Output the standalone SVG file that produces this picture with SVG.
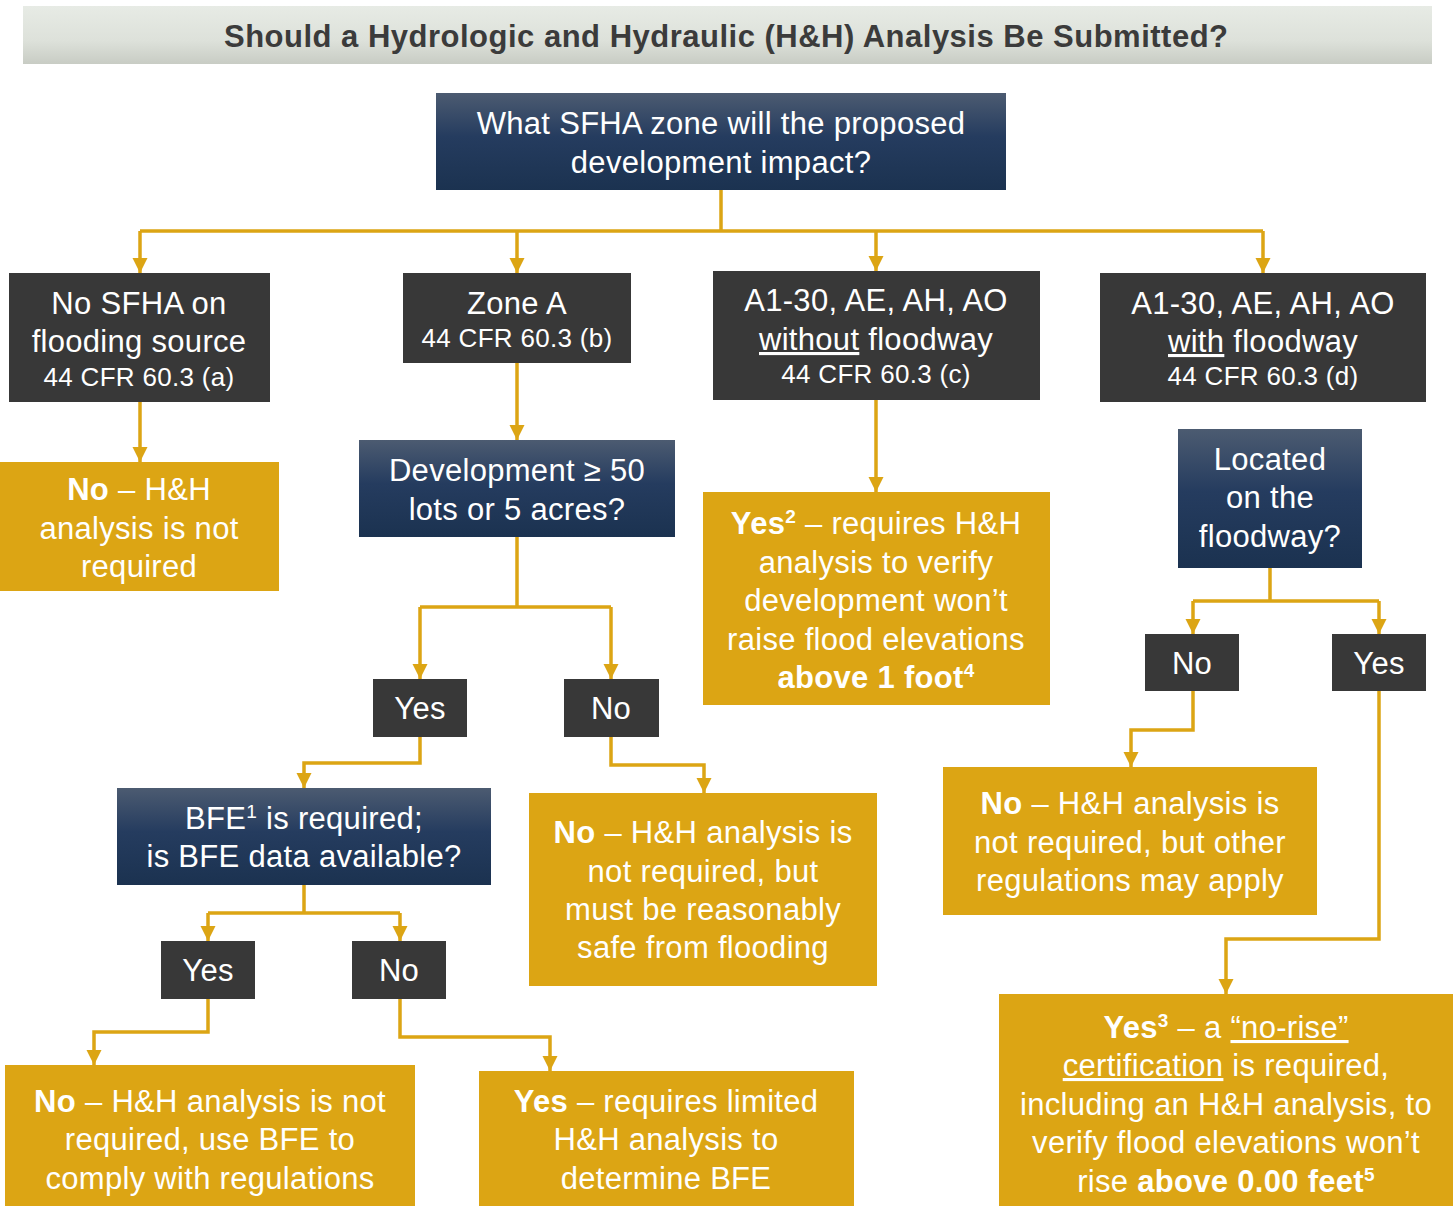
<svg xmlns="http://www.w3.org/2000/svg" width="1453" height="1206" viewBox="0 0 1453 1206">
<defs>
<linearGradient id="hdr" x1="0" y1="0" x2="0" y2="1">
<stop offset="0" stop-color="#e7ebe5"/><stop offset="0.6" stop-color="#dde1da"/><stop offset="1" stop-color="#c8ccc4"/>
</linearGradient>
<linearGradient id="navy" x1="0" y1="0" x2="0" y2="1">
<stop offset="0" stop-color="#4c5b71"/><stop offset="0.45" stop-color="#253c5f"/><stop offset="1" stop-color="#1b3250"/>
</linearGradient>
<marker id="ah" markerUnits="userSpaceOnUse" markerWidth="16" markerHeight="16" viewBox="0 0 16 16" refX="15" refY="8" orient="auto">
<path d="M0,0.5 L15,8 L0,15.5 z" fill="#dca514"/>
</marker>
<style>
.dark{fill:#383838}
.nv{fill:url(#navy)}
.gold{fill:#dca514}
text{font-family:"Liberation Sans",Arial,sans-serif;fill:#ffffff;text-anchor:middle}
.t{font-size:31px;letter-spacing:0.3px}
.s{font-size:26px;letter-spacing:0.3px}
.b{font-weight:bold}
.u{text-decoration:underline}
.title{font-size:31px;font-weight:bold;fill:#3b3b3b}
.c{fill:none;stroke:#dca514;stroke-width:3.5}
.ca{fill:none;stroke:#dca514;stroke-width:3.5;marker-end:url(#ah)}
</style>
</defs>
<rect width="1453" height="1206" fill="#ffffff"/>

<g id="header">
<rect x="23" y="6" width="1409" height="58" fill="url(#hdr)"/>
<text class="title" x="726" y="47" textLength="1004" lengthAdjust="spacing">Should a Hydrologic and Hydraulic (H&amp;H) Analysis Be Submitted?</text>
</g>

<g id="connectors">
<path class="c" d="M721,190 V231 M140,231 H1263"/>
<path class="ca" d="M140,231 V273"/>
<path class="ca" d="M517,231 V273"/>
<path class="ca" d="M876,231 V271"/>
<path class="ca" d="M1263,231 V273"/>
<path class="ca" d="M140,402 V462"/>
<path class="ca" d="M517,363 V440"/>
<path class="ca" d="M876,400 V492"/>
<path class="c" d="M517,537 V607 M420,607 H611"/>
<path class="ca" d="M420,607 V679"/>
<path class="ca" d="M611,607 V679"/>
<path class="ca" d="M420,737 V763 H304 V788"/>
<path class="ca" d="M611,737 V765 H704 V793"/>
<path class="c" d="M304,885 V913 M208,913 H400"/>
<path class="ca" d="M208,913 V941"/>
<path class="ca" d="M400,913 V941"/>
<path class="ca" d="M208,999 V1032 H94 V1065"/>
<path class="ca" d="M400,999 V1037 H550 V1071"/>
<path class="c" d="M1270,568 V601 M1193,601 H1379"/>
<path class="ca" d="M1193,601 V634"/>
<path class="ca" d="M1379,601 V634"/>
<path class="ca" d="M1193,691 V730 H1131 V767"/>
<path class="ca" d="M1379,691 V939 H1226 V994"/>
</g>

<g id="n-top">
<rect class="nv" x="436" y="93" width="570" height="97"/>
<text class="t" x="721" y="134">What SFHA zone will the proposed</text>
<text class="t" x="721" y="173">development impact?</text>
</g>

<g id="n-nosfha">
<rect class="dark" x="9" y="273" width="261" height="129"/>
<text class="t" x="139" y="314">No SFHA on</text>
<text class="t" x="139" y="352">flooding source</text>
<text class="s" x="139" y="386">44 CFR 60.3 (a)</text>
</g>

<g id="n-zonea">
<rect class="dark" x="403" y="273" width="228" height="90"/>
<text class="t" x="517" y="314">Zone A</text>
<text class="s" x="517" y="347">44 CFR 60.3 (b)</text>
</g>

<g id="n-without">
<rect class="dark" x="713" y="271" width="327" height="129"/>
<text class="t" x="876" y="311">A1-30, AE, AH, AO</text>
<text class="t" x="876" y="350"><tspan class="u">without</tspan> floodway</text>
<text class="s" x="876" y="383">44 CFR 60.3 (c)</text>
</g>

<g id="n-with">
<rect class="dark" x="1100" y="273" width="326" height="129"/>
<text class="t" x="1263" y="314">A1-30, AE, AH, AO</text>
<text class="t" x="1263" y="352"><tspan class="u">with</tspan> floodway</text>
<text class="s" x="1263" y="385">44 CFR 60.3 (d)</text>
</g>

<g id="n-no-a">
<rect class="gold" x="0" y="462" width="279" height="129"/>
<text class="t" x="139" y="500"><tspan class="b">No</tspan> – H&amp;H</text>
<text class="t" x="139" y="539">analysis is not</text>
<text class="t" x="139" y="577">required</text>
</g>

<g id="n-dev">
<rect class="nv" x="359" y="440" width="316" height="97"/>
<text class="t" x="517" y="481">Development ≥ 50</text>
<text class="t" x="517" y="520">lots or 5 acres?</text>
</g>

<g id="n-dev-yes">
<rect class="dark" x="373" y="679" width="94" height="58"/>
<text class="t" x="420" y="719">Yes</text>
</g>

<g id="n-dev-no">
<rect class="dark" x="564" y="679" width="95" height="58"/>
<text class="t" x="611" y="719">No</text>
</g>

<g id="n-bfe">
<rect class="nv" x="117" y="788" width="374" height="97"/>
<text class="t" x="304" y="829">BFE<tspan font-size="19" dy="-11">1</tspan><tspan dy="11"> is required;</tspan></text>
<text class="t" x="304" y="867">is BFE data available?</text>
</g>

<g id="n-no-safe">
<rect class="gold" x="529" y="793" width="348" height="193"/>
<text class="t" x="703" y="843"><tspan class="b">No</tspan> – H&amp;H analysis is</text>
<text class="t" x="703" y="882">not required, but</text>
<text class="t" x="703" y="920">must be reasonably</text>
<text class="t" x="703" y="958">safe from flooding</text>
</g>

<g id="n-bfe-yes">
<rect class="dark" x="161" y="941" width="94" height="58"/>
<text class="t" x="208" y="981">Yes</text>
</g>

<g id="n-bfe-no">
<rect class="dark" x="352" y="941" width="94" height="58"/>
<text class="t" x="399" y="981">No</text>
</g>

<g id="n-no-usebfe">
<rect class="gold" x="5" y="1065" width="410" height="141"/>
<text class="t" x="210" y="1112"><tspan class="b">No</tspan> – H&amp;H analysis is not</text>
<text class="t" x="210" y="1150">required, use BFE to</text>
<text class="t" x="210" y="1189">comply with regulations</text>
</g>

<g id="n-yes-limited">
<rect class="gold" x="479" y="1071" width="375" height="135"/>
<text class="t" x="666" y="1112"><tspan class="b">Yes</tspan> – requires limited</text>
<text class="t" x="666" y="1150">H&amp;H analysis to</text>
<text class="t" x="666" y="1189">determine BFE</text>
</g>

<g id="n-yes-1ft">
<rect class="gold" x="703" y="492" width="347" height="213"/>
<text class="t" x="876" y="534"><tspan class="b">Yes</tspan><tspan class="b" font-size="19" dy="-11">2</tspan><tspan dy="11"> – requires H&amp;H</tspan></text>
<text class="t" x="876" y="573">analysis to verify</text>
<text class="t" x="876" y="611">development won’t</text>
<text class="t" x="876" y="650">raise flood elevations</text>
<text class="t b" x="876" y="688">above 1 foot<tspan font-size="19" dy="-11">4</tspan></text>
</g>

<g id="n-located">
<rect class="nv" x="1178" y="429" width="184" height="139"/>
<text class="t" x="1270" y="470">Located</text>
<text class="t" x="1270" y="508">on the</text>
<text class="t" x="1270" y="547">floodway?</text>
</g>

<g id="n-fw-no">
<rect class="dark" x="1145" y="634" width="94" height="57"/>
<text class="t" x="1192" y="674">No</text>
</g>

<g id="n-fw-yes">
<rect class="dark" x="1332" y="634" width="94" height="57"/>
<text class="t" x="1379" y="674">Yes</text>
</g>

<g id="n-no-other">
<rect class="gold" x="943" y="767" width="374" height="148"/>
<text class="t" x="1130" y="814"><tspan class="b">No</tspan> – H&amp;H analysis is</text>
<text class="t" x="1130" y="853">not required, but other</text>
<text class="t" x="1130" y="891">regulations may apply</text>
</g>

<g id="n-yes-norise">
<rect class="gold" x="999" y="994" width="454" height="212"/>
<text class="t" x="1226" y="1038"><tspan class="b">Yes</tspan><tspan class="b" font-size="19" dy="-11">3</tspan><tspan dy="11"> – a </tspan><tspan class="u">“no-rise”</tspan></text>
<text class="t" x="1226" y="1076"><tspan class="u">certification</tspan> is required,</text>
<text class="t" x="1226" y="1115">including an H&amp;H analysis, to</text>
<text class="t" x="1226" y="1153">verify flood elevations won’t</text>
<text class="t" x="1226" y="1192">rise <tspan class="b">above 0.00 feet</tspan><tspan class="b" font-size="19" dy="-11">5</tspan></text>
</g>
</svg>
